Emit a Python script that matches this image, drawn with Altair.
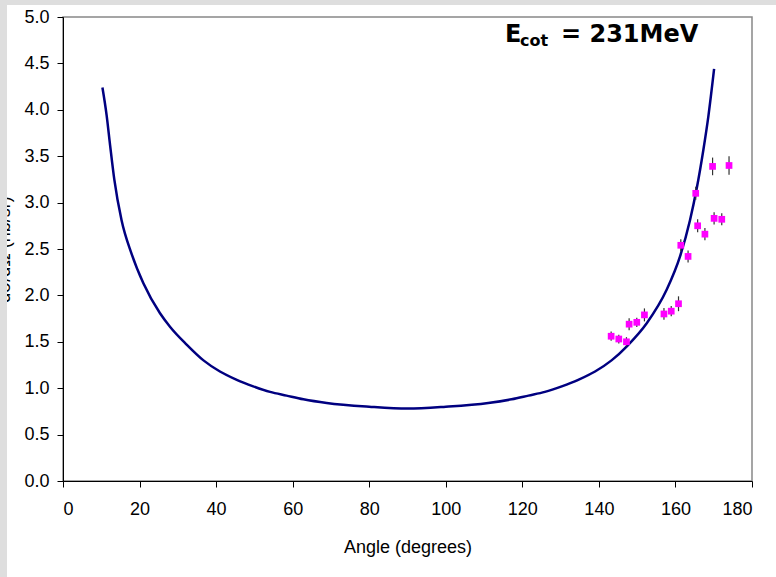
import altair as alt
import pandas as pd

# Theory curve
curve_angle = [10.3, 11.4, 12.3, 13.4, 15.3, 17.9, 21.0, 25.3, 28.0, 32.3, 36.7, 41.0,
               45.4, 49.7, 54.1, 58.4, 62.8, 68.9, 80, 90, 100, 111.1, 117.2, 121.6,
               125.9, 130.3, 134.6, 139.0, 143.3, 147.5, 152.5, 157.7, 161.2, 163.8,
               165.5, 167.3, 168.6, 170.1]
curve_val = [4.24, 3.94, 3.62, 3.25, 2.81, 2.45, 2.13, 1.81, 1.66, 1.47, 1.30, 1.18,
             1.09, 1.02, 0.96, 0.92, 0.88, 0.84, 0.80, 0.78, 0.80, 0.84, 0.88, 0.92,
             0.96, 1.02, 1.09, 1.18, 1.30, 1.46, 1.70, 2.06, 2.42, 2.81,
             3.14, 3.57, 3.93, 4.44]

# Measured points
pt_angle = [143.2, 145.2, 147.2, 147.9, 149.9, 151.9, 157.0, 158.9, 160.8, 161.4,
            163.3, 165.3, 165.8, 167.7, 169.7, 170.1, 172.1, 174.0]
pt_val = [1.56, 1.53, 1.50, 1.69, 1.71, 1.79, 1.80, 1.83, 1.91, 2.54,
          2.42, 3.10, 2.75, 2.66, 3.39, 2.83, 2.82, 3.40]
pt_err = [0.05, 0.047, 0.05, 0.065, 0.05, 0.07, 0.063, 0.055, 0.08, 0.065,
          0.065, 0.07, 0.07, 0.065, 0.095, 0.065, 0.065, 0.10]

x_ticks = list(range(0, 181, 20))
y_ticks = [0, 0.5, 1.0, 1.5, 2.0, 2.5, 3.0, 3.5, 4.0, 4.5, 5.0]

curve_df = pd.DataFrame({"angle": curve_angle, "val": curve_val})
pts_df = pd.DataFrame({"angle": pt_angle, "val": pt_val, "err": pt_err})
pts_df["lo"] = pts_df["val"] - pts_df["err"]
pts_df["hi"] = pts_df["val"] + pts_df["err"]
one = pd.DataFrame({"k": [0]})

W, H = 689, 464
PL, PT, PR, PB = 63, 17, 24, 96

xs = alt.Scale(domain=[0, 180], nice=False)
ys = alt.Scale(domain=[0, 5], nice=False)

x_axis = alt.Axis(values=x_ticks, title="Angle (degrees)", grid=False,
                  labelPadding=13, titleY=71, titleBaseline="alphabetic")
y_axis = alt.Axis(values=y_ticks, format=".1f", title="dσ/dΩ (nb/sr)", grid=False,
                  labelPadding=8, titleX=-54, titleY=H / 2, titleAngle=270,
                  titleBaseline="alphabetic", titleAlign="center")

curve = alt.Chart(curve_df).mark_line(
    color="#000080", strokeWidth=2.5, interpolate="monotone"
).encode(
    x=alt.X("angle:Q", scale=xs, axis=x_axis),
    y=alt.Y("val:Q", scale=ys, axis=y_axis),
)

bars = alt.Chart(pts_df).mark_rule(color="#333333", strokeWidth=1.2).encode(
    x=alt.X("angle:Q", scale=xs),
    y=alt.Y("lo:Q", scale=ys),
    y2="hi:Q",
)

squares = alt.Chart(pts_df).mark_square(size=45, color="#FF00FF", opacity=1).encode(
    x=alt.X("angle:Q", scale=xs),
    y=alt.Y("val:Q", scale=ys),
)

gray = "#dedede"
strip_left = alt.Chart(one).mark_rect(color=gray).encode(
    x=alt.value(-PL), x2=alt.value(-PL + 7), y=alt.value(-PT), y2=alt.value(H + PB)
)
strip_top = alt.Chart(one).mark_rect(color=gray).encode(
    x=alt.value(-PL), x2=alt.value(W + PR), y=alt.value(-PT), y2=alt.value(-PT + 5)
)

txt_kw = dict(font="DejaVu Sans", fontWeight="bold", align="left",
              baseline="alphabetic", color="black")
t_e = alt.Chart(one).mark_text(text="E", fontSize=24, **txt_kw).encode(
    x=alt.value(505 - PL), y=alt.value(42 - PT))
t_sub = alt.Chart(one).mark_text(text="cot", fontSize=16, **txt_kw).encode(
    x=alt.value(520 - PL), y=alt.value(46 - PT))
t_rest = alt.Chart(one).mark_text(text="= 231MeV", fontSize=24, **txt_kw).encode(
    x=alt.value(561 - PL), y=alt.value(42 - PT))

chart = alt.layer(
    curve, bars, squares, strip_left, strip_top, t_e, t_sub, t_rest
).properties(
    width=W, height=H,
    autosize=alt.AutoSizeParams(type="none"),
    padding={"left": PL, "top": PT, "right": PR, "bottom": PB},
    background="white",
).configure_view(
    stroke="#888888", strokeWidth=1.5
).configure_axis(
    domainColor="black", domainWidth=1, tickColor="black", tickSize=6, tickWidth=1,
    labelFont="Liberation Sans", labelFontSize=18, labelColor="black",
    titleFont="Liberation Sans", titleFontSize=18, titleColor="black",
    titleFontWeight="normal",
)

chart.save("out.html", embed_options={"renderer": "svg", "actions": False})
